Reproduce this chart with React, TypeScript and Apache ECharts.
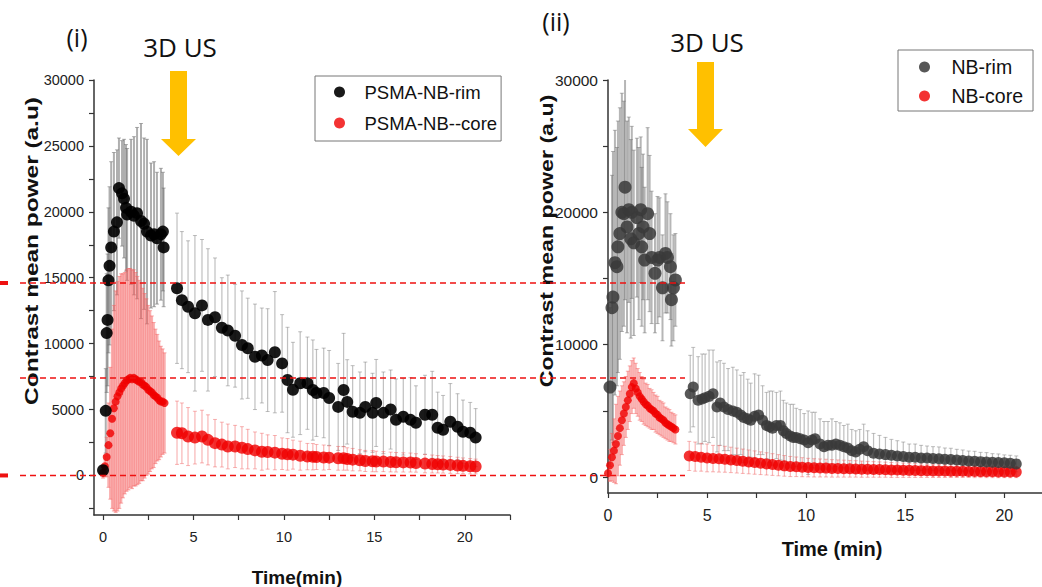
import React, { useEffect, useRef } from "react";
import * as echarts from "echarts";

type Pt = [number, number, number]; // [time (min), mean, sd]

// ---------- Panel (i): PSMA-NB ----------
const leftRimPre: Pt[] = [
  [0.0, 400, 300], [0.15, 4900, 3200], [0.2, 10800, 4500], [0.25, 11800, 5000],
  [0.3, 14800, 5500], [0.36, 15900, 6000], [0.45, 17300, 6500], [0.6, 18500, 6000],
  [0.77, 19200, 5500], [0.88, 21800, 3800], [1.05, 21400, 4000], [1.16, 21000, 4500],
  [1.27, 20300, 4800], [1.33, 19800, 5000], [1.55, 20000, 5500], [1.71, 19700, 6000],
  [1.88, 19900, 6500], [2.1, 19300, 7400], [2.27, 19100, 6500], [2.43, 18500, 7000],
  [2.65, 18200, 5500], [2.82, 18300, 5500], [2.98, 18000, 5000], [3.2, 18300, 5000],
  [3.31, 18500, 4500], [3.35, 17300, 4500],
];
const leftRimPost: Pt[] = [
  [4.09, 14200, 5700], [4.36, 13300, 5200], [4.7, 12800, 5000], [5.08, 12300, 5900],
  [5.47, 12900, 5000], [5.8, 11800, 5400], [6.19, 12000, 4500], [6.57, 11200, 3800],
  [6.9, 11000, 4200], [7.3, 10600, 3900], [7.68, 9900, 4100], [8.0, 9650, 3800],
  [8.4, 9000, 4000], [8.78, 9100, 3600], [9.1, 8750, 3900], [9.5, 9350, 4600],
  [9.9, 8500, 3700], [10.2, 7240, 4000], [10.5, 6500, 3600], [10.9, 7000, 3900],
  [11.3, 7000, 3500], [11.6, 6480, 3800], [11.8, 6260, 3300], [12.2, 6260, 3400],
  [12.5, 5880, 3600], [13.0, 5200, 3300], [13.3, 6480, 4300], [13.5, 5580, 3200],
  [13.8, 4830, 3500], [14.2, 4750, 3100], [14.5, 5200, 3400], [14.9, 4750, 3000],
  [15.1, 5500, 3300], [15.5, 4750, 3100], [15.9, 5000, 3000], [16.2, 4220, 3100],
  [16.6, 4450, 2900], [17.0, 4220, 3200], [17.3, 4000, 2800], [17.8, 4600, 3000],
  [18.2, 4600, 3300], [18.5, 3620, 2700], [18.8, 3470, 2600], [19.2, 4070, 2900],
  [19.6, 3700, 2500], [19.9, 3320, 2400], [20.3, 3240, 2300], [20.6, 2870, 2200],
];
const leftCorePre: Pt[] = [
  [0.0, 200, 400], [0.1, 700, 800], [0.2, 1400, 1500], [0.3, 2300, 3200],
  [0.4, 3200, 5000], [0.5, 4300, 6800], [0.6, 5100, 7800], [0.7, 5600, 8400],
  [0.8, 6000, 8700], [0.9, 6300, 8800], [1.0, 6600, 8700], [1.1, 6800, 8500],
  [1.2, 7000, 8400], [1.3, 7200, 8400], [1.4, 7300, 8400], [1.5, 7400, 8300],
  [1.6, 7300, 8300], [1.7, 7400, 8200], [1.8, 7300, 8100], [1.9, 7200, 7900],
  [2.0, 7100, 7700], [2.1, 7100, 7500], [2.2, 6900, 7300], [2.3, 6800, 7000],
  [2.4, 6700, 6700], [2.5, 6500, 6400], [2.6, 6400, 6100], [2.7, 6300, 5800],
  [2.8, 6100, 5500], [2.9, 6000, 5100], [3.0, 5900, 4800], [3.1, 5700, 4500],
  [3.2, 5600, 4200], [3.3, 5600, 4000], [3.4, 5500, 3800],
];
const leftCorePost: Pt[] = [
  [4.09, 3240, 2400], [4.36, 3200, 2300], [4.7, 2950, 2200], [5.08, 2870, 2000],
  [5.47, 2950, 2000], [5.8, 2700, 1900], [6.19, 2450, 1800], [6.57, 2340, 1700],
  [6.9, 2200, 1700], [7.3, 2200, 1600], [7.68, 2100, 1600], [8.0, 2000, 1500],
  [8.4, 1900, 1400], [8.78, 1800, 1400], [9.1, 1780, 1300], [9.5, 1730, 1300],
  [9.9, 1650, 1200], [10.2, 1600, 1200], [10.5, 1580, 1100], [10.9, 1500, 1100],
  [11.3, 1430, 1000], [11.6, 1420, 1000], [11.8, 1400, 950], [12.2, 1360, 950],
  [12.5, 1350, 900], [13.0, 1300, 900], [13.3, 1300, 900], [13.5, 1250, 850],
  [13.8, 1200, 850], [14.2, 1150, 800], [14.5, 1100, 800], [14.9, 1080, 800],
  [15.1, 1060, 780], [15.5, 1050, 760], [15.9, 1020, 750], [16.2, 1000, 740],
  [16.6, 990, 730], [17.0, 980, 720], [17.3, 950, 700], [17.8, 900, 700],
  [18.2, 870, 680], [18.5, 850, 660], [18.8, 830, 650], [19.2, 800, 640],
  [19.6, 760, 620], [19.9, 730, 600], [20.3, 700, 580], [20.6, 680, 560],
];

// ---------- Panel (ii): NB ----------
const rightRimPre: Pt[] = [
  [0.1, 6800, 6000], [0.2, 12800, 10000], [0.25, 13600, 11000], [0.35, 16200, 10000],
  [0.45, 15900, 9000], [0.5, 17400, 9500], [0.6, 18400, 9500], [0.7, 20000, 9000],
  [0.8, 19900, 8500], [0.86, 21900, 8500], [0.96, 18900, 8000], [1.05, 20200, 7000],
  [1.15, 18000, 7500], [1.2, 20000, 6500], [1.3, 17700, 7000], [1.46, 19600, 6000],
  [1.55, 18400, 6500], [1.65, 20200, 5500], [1.7, 17400, 6000], [1.77, 18900, 5500],
  [1.85, 16400, 5500], [2.0, 19900, 6500], [2.1, 18400, 5900], [2.2, 16600, 5000],
  [2.37, 15400, 4500], [2.5, 16400, 4800], [2.6, 16600, 4500], [2.75, 14300, 4000],
  [2.9, 16900, 4500], [3.0, 16600, 4200], [3.15, 15900, 4000], [3.2, 13400, 3500],
  [3.3, 14300, 4000], [3.4, 14900, 3500],
];
const rightRimPost: Pt[] = [
  [4.15, 6300, 2900], [4.3, 6800, 3000], [4.55, 5800, 3300], [4.75, 5900, 3400],
  [4.9, 6000, 3300], [5.1, 6100, 3500], [5.3, 6300, 3300], [5.5, 5300, 3400],
  [5.66, 5600, 3200], [5.85, 5300, 3300], [6.06, 5100, 3100], [6.3, 5000, 3300],
  [6.5, 4900, 3200], [6.7, 4700, 3000], [6.85, 4500, 3400], [7.05, 4400, 3000],
  [7.2, 4300, 2800], [7.4, 4600, 3200], [7.6, 4700, 3000], [7.8, 4300, 2600],
  [8.0, 3900, 2500], [8.15, 3800, 2700], [8.3, 3700, 2800], [8.5, 3900, 2500],
  [8.7, 3900, 2600], [8.85, 3500, 2300], [9.0, 3300, 2300], [9.2, 3100, 2400],
  [9.35, 3000, 2500], [9.5, 3000, 2200], [9.7, 2900, 2200], [9.9, 2800, 2000],
  [10.1, 2600, 2400], [10.3, 2800, 2100], [10.45, 2900, 2000], [10.7, 2500, 1900],
  [10.9, 2300, 1900], [11.1, 2400, 1800], [11.3, 2400, 2000], [11.5, 2500, 1700],
  [11.7, 2400, 1700], [11.9, 2300, 1600], [12.1, 2200, 1800], [12.3, 2000, 1600],
  [12.5, 1900, 1600], [12.7, 2100, 1500], [12.9, 2300, 1700], [13.1, 2000, 1500],
  [13.4, 1800, 1500], [13.7, 1750, 1400], [14.0, 1700, 1300], [14.3, 1650, 1200],
  [14.6, 1600, 1150], [14.9, 1550, 1100], [15.2, 1500, 1000], [15.5, 1500, 1000],
  [15.8, 1450, 950], [16.1, 1450, 900], [16.4, 1400, 900], [16.7, 1380, 900],
  [17.0, 1350, 850], [17.3, 1330, 850], [17.6, 1300, 800], [17.9, 1250, 800],
  [18.2, 1220, 750], [18.5, 1200, 750], [18.8, 1170, 700], [19.1, 1150, 700],
  [19.4, 1120, 650], [19.7, 1100, 650], [20.0, 1080, 600], [20.3, 1050, 600],
  [20.6, 1000, 600],
];
const rightCorePre: Pt[] = [
  [0.0, 300, 600], [0.1, 900, 1200], [0.2, 1500, 1800], [0.3, 2000, 2400],
  [0.4, 2500, 3000], [0.5, 3100, 3000], [0.6, 3700, 2800], [0.7, 4300, 2600],
  [0.8, 4800, 2400], [0.9, 5300, 2300], [1.0, 5800, 2200], [1.1, 6300, 2100],
  [1.2, 6800, 2000], [1.3, 7100, 1900], [1.4, 6700, 1900], [1.5, 6400, 1800],
  [1.6, 6100, 1800], [1.7, 5900, 1700], [1.8, 5700, 1700], [1.9, 5500, 1600],
  [2.0, 5400, 1600], [2.1, 5200, 1500], [2.2, 5100, 1500], [2.3, 5000, 1400],
  [2.4, 4800, 1400], [2.5, 4700, 1400], [2.6, 4500, 1300], [2.7, 4400, 1300],
  [2.8, 4300, 1300], [2.9, 4100, 1200], [3.0, 4000, 1200], [3.1, 3900, 1200],
  [3.2, 3800, 1100], [3.3, 3700, 1100], [3.4, 3600, 1100],
];
const rightCorePost: Pt[] = [
  [4.1, 1600, 1100], [4.4, 1550, 1100], [4.7, 1500, 1050], [5.0, 1450, 1050],
  [5.3, 1400, 1000], [5.6, 1380, 1000], [5.9, 1350, 980], [6.2, 1300, 960],
  [6.5, 1250, 940], [6.8, 1200, 920], [7.1, 1150, 900], [7.4, 1100, 880],
  [7.7, 1050, 860], [8.0, 1000, 840], [8.3, 950, 820], [8.6, 900, 800],
  [8.9, 850, 780], [9.2, 800, 760], [9.5, 780, 740], [9.8, 750, 720],
  [10.1, 720, 700], [10.4, 700, 690], [10.7, 690, 680], [11.0, 680, 670],
  [11.3, 660, 660], [11.6, 650, 650], [11.9, 640, 640], [12.2, 630, 630],
  [12.5, 620, 620], [12.8, 600, 610], [13.1, 590, 600], [13.4, 580, 590],
  [13.7, 570, 580], [14.0, 560, 570], [14.3, 540, 560], [14.6, 530, 550],
  [14.9, 520, 540], [15.2, 510, 530], [15.5, 500, 520], [15.8, 490, 510],
  [16.1, 480, 500], [16.4, 470, 500], [16.7, 460, 490], [17.0, 455, 480],
  [17.3, 450, 480], [17.6, 445, 470], [17.9, 440, 470], [18.2, 430, 460],
  [18.5, 420, 460], [18.8, 415, 450], [19.1, 410, 450], [19.4, 400, 440],
  [19.7, 395, 440], [20.0, 390, 430], [20.3, 385, 430], [20.6, 380, 420],
];

// ---------- Axis ticks / labels ----------
const leftXTicks = [0, 2.5, 5, 7.5, 10, 12.5, 15, 17.5, 20, 22.5];
const leftXLabels = [0, 5, 10, 15, 20];
const leftYTicks = [-2500, 0, 2500, 5000, 7500, 10000, 12500, 15000, 17500, 20000, 22500, 25000, 27500, 30000];
const leftYLabels = [0, 5000, 10000, 15000, 20000, 25000, 30000];
const rightXTicks = [0, 2.5, 5, 7.5, 10, 12.5, 15, 17.5, 20];
const rightXLabels = [0, 5, 10, 15, 20];
const rightYTicks = [0, 5000, 10000, 15000, 20000, 25000, 30000];
const rightYLabels = [0, 10000, 20000, 30000];

// Reference levels of the dashed red guide lines
const guideLevels = [14600, 7400, 0];

const FONT = '"Liberation Sans", Arial, sans-serif';
const TITLE_FONT = '"Open Sans", "Noto Sans", sans-serif';

const errData = (arr: Pt[]) => arr.map(([t, m, s]) => [t, m - s, m + s]);
const ptData = (arr: Pt[]) => arr.map(([t, m]) => [t, m]);

function errSeries(name: string, data: Pt[], idx: number, stroke: string, lw: number) {
  return {
    name,
    type: "custom",
    xAxisIndex: idx,
    yAxisIndex: idx,
    clip: true,
    silent: true,
    z: 1,
    encode: { x: 0, y: [1, 2] },
    data: errData(data),
    renderItem: (params: any, api: any) => {
      const t = api.value(0);
      const top = api.coord([t, api.value(2)]);
      const bot = api.coord([t, api.value(1)]);
      const w = 2;
      const style = { stroke, lineWidth: lw };
      const capStyle = { stroke, lineWidth: 1 };
      return {
        type: "group",
        children: [
          { type: "line", shape: { x1: top[0], y1: top[1], x2: bot[0], y2: bot[1] }, style },
          { type: "line", shape: { x1: top[0] - w, y1: top[1], x2: top[0] + w, y2: top[1] }, style: capStyle },
          { type: "line", shape: { x1: bot[0] - w, y1: bot[1], x2: bot[0] + w, y2: bot[1] }, style: capStyle },
        ],
      };
    },
  };
}

const plain = (v: number) => String(v);

function xAxis(idx: number, min: number, max: number, ticks: number[], labels: number[], fs: number) {
  return {
    type: "value",
    gridIndex: idx,
    min,
    max,
    splitLine: { show: false },
    axisLine: { show: true, onZero: false, lineStyle: { color: "#333", width: 1.5 } },
    axisTick: { show: true, customValues: ticks, length: 5, lineStyle: { color: "#333", width: 1.2 } },
    axisLabel: { customValues: labels, formatter: plain, fontSize: fs, color: "#222", fontFamily: FONT, margin: 14 },
  };
}
function yAxis(idx: number, min: number, max: number, ticks: number[], labels: number[], fs: number) {
  return {
    type: "value",
    gridIndex: idx,
    min,
    max,
    splitLine: { show: false },
    axisLine: { show: true, onZero: false, lineStyle: { color: "#333", width: 1.5 } },
    axisTick: { show: true, customValues: ticks, length: 5, lineStyle: { color: "#333", width: 1.2 } },
    axisLabel: { customValues: labels, formatter: plain, fontSize: fs, color: "#222", fontFamily: FONT, margin: 10 },
  };
}

export default function App() {
  const ref = useRef<HTMLDivElement>(null);
  useEffect(() => {
    const chart = echarts.init(ref.current!, undefined, { renderer: "svg" });
    const option: any = {
      animation: false,
      backgroundColor: "#fff",
      grid: [
        { left: 94, top: 80, width: 416, height: 435 },
        { left: 608, top: 80, width: 434, height: 413 },
      ],
      xAxis: [
        xAxis(0, -0.5, 22.5, leftXTicks, leftXLabels, 14.5),
        xAxis(1, 0, 21.9, rightXTicks, rightXLabels, 16),
      ],
      yAxis: [
        yAxis(0, -3000, 30000, leftYTicks, leftYLabels, 14.5),
        yAxis(1, -1200, 30000, rightYTicks, rightYLabels, 15.5),
      ],
      legend: [
        {
          data: ["PSMA-NB-rim", "PSMA-NB--core"],
          orient: "vertical",
          left: 315,
          top: 76,
          itemWidth: 40,
          itemHeight: 11,
          itemGap: 11,
          padding: [6, 4, 8, 19],
          borderColor: "#777",
          borderWidth: 1,
          icon: "circle",
          selectedMode: false,
          textStyle: { fontSize: 18.5, lineHeight: 20, fontFamily: FONT, color: "#111" },
        },
        {
          data: ["NB-rim", "NB-core"],
          orient: "vertical",
          left: 898,
          top: 50,
          itemWidth: 44,
          itemHeight: 11,
          itemGap: 9,
          padding: [7, 10, 5, 21],
          borderColor: "#777",
          borderWidth: 1,
          icon: "circle",
          selectedMode: false,
          textStyle: { fontSize: 19.5, lineHeight: 20, fontFamily: FONT, color: "#111" },
        },
      ],
      series: [
        errSeries("errRimPreL", leftRimPre, 0, "rgba(110,110,110,0.55)", 2),
        errSeries("errRimPostL", leftRimPost, 0, "rgba(130,130,130,0.5)", 1.2),
        errSeries("errCorePreL", leftCorePre, 0, "rgba(245,95,95,0.5)", 2.4),
        errSeries("errCorePostL", leftCorePost, 0, "rgba(240,90,90,0.45)", 1.2),
        {
          name: "PSMA-NB--core",
          type: "scatter",
          xAxisIndex: 0,
          yAxisIndex: 0,
          z: 3,
          symbol: "circle",
          symbolSize: (v: number[]) => (v[0] < 3.7 ? 8 : 12),
          itemStyle: { color: "#f00000" },
          data: ptData([...leftCorePre, ...leftCorePost]),
        },
        {
          name: "PSMA-NB-rim",
          type: "scatter",
          xAxisIndex: 0,
          yAxisIndex: 0,
          z: 4,
          symbol: "circle",
          symbolSize: 12,
          itemStyle: { color: "#000", opacity: 0.9 },
          data: ptData([...leftRimPre, ...leftRimPost]),
        },
        errSeries("errRimPreR", rightRimPre, 1, "rgba(110,110,110,0.5)", 2),
        errSeries("errRimPostR", rightRimPost, 1, "rgba(130,130,130,0.5)", 1.2),
        errSeries("errCorePreR", rightCorePre, 1, "rgba(245,95,95,0.5)", 2),
        errSeries("errCorePostR", rightCorePost, 1, "rgba(240,90,90,0.45)", 1.2),
        {
          name: "NB-core",
          type: "scatter",
          xAxisIndex: 1,
          yAxisIndex: 1,
          z: 3,
          symbol: "circle",
          symbolSize: (v: number[]) => (v[0] < 3.7 ? 8 : 11),
          itemStyle: { color: "#f00000" },
          data: ptData([...rightCorePre, ...rightCorePost]),
        },
        {
          name: "NB-rim",
          type: "scatter",
          xAxisIndex: 1,
          yAxisIndex: 1,
          z: 4,
          symbol: "circle",
          symbolSize: (v: number[]) => (v[0] < 3.7 ? 13 : 11),
          itemStyle: { color: "#3a3a3a", opacity: 0.85 },
          data: ptData([...rightRimPre, ...rightRimPost]),
        },
      ],
    };
    chart.setOption(option);

    const ys = guideLevels.map((v) => (chart.convertToPixel({ gridIndex: 0 } as any, [0, v]) as number[])[1]);
    const dashed = ys.map((y) => ({
      type: "line",
      z: 100,
      silent: true,
      shape: { x1: 20, y1: y, x2: 685, y2: y },
      style: { stroke: "#ee1111", lineWidth: 1.5, lineDash: [6, 4] },
    }));
    const stubs = [ys[0], ys[2]].map((y) => ({
      type: "rect",
      z: 100,
      silent: true,
      shape: { x: 0, y: y - 2, width: 8, height: 4 },
      style: { fill: "#ee1111" },
    }));
    const arrow = (pts: number[][]) => ({
      type: "polygon",
      z: 50,
      silent: true,
      shape: { points: pts },
      style: { fill: "#FFC000" },
    });
    const text = (x: number, y: number, s: string, font: string, extra: any = {}) => ({
      type: "text",
      x,
      y,
      z: 60,
      silent: true,
      ...extra,
      style: { text: s, font, fill: "#111", align: "center", verticalAlign: "middle" },
    });

    chart.setOption({
      graphic: {
        elements: [
          ...dashed,
          ...stubs,
          arrow([[170, 71], [187, 71], [187, 139], [196, 139], [178.5, 156], [161, 139], [170, 139]]),
          arrow([[697, 62], [714, 62], [714, 129], [723, 129], [705.5, 147], [688, 129], [697, 129]]),
          text(77, 37, "(i)", `25px ${TITLE_FONT}`),
          text(180, 47, "3D US", `26px ${TITLE_FONT}`),
          text(556, 21, "(ii)", `25px ${TITLE_FONT}`),
          text(707, 42, "3D US", `26px ${TITLE_FONT}`),
          text(32, 251, "Contrast mean power (a.u)", `bold 18px ${FONT}`, { rotation: Math.PI / 2, scaleX: 1.357 }),
          text(547, 241, "Contrast mean power (a.u)", `bold 18px ${FONT}`, { rotation: Math.PI / 2, scaleX: 1.29 }),
          text(297, 577, "Time(min)", `bold 19px ${FONT}`),
          text(832, 549, "Time (min)", `bold 20px ${FONT}`),
        ],
      },
    });

    return () => chart.dispose();
  }, []);
  return (
    <div
      ref={ref}
      style={{ position: "fixed", left: 0, top: 0, width: 1042, height: 587, background: "#fff" }}
    />
  );
}
